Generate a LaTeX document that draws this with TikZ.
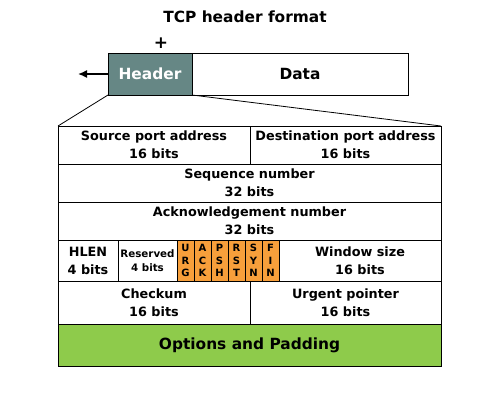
\documentclass[tikz,border=0pt]{standalone}
\usepackage{fontspec}
\setmainfont{DejaVu Sans}
\usetikzlibrary{arrows.meta}
\begin{document}
\begin{tikzpicture}[x=1pt, y=-1pt,
            cell/.style={rectangle, draw=black, line width=0.8pt, fill=white, anchor=north west, inner sep=0pt, outer sep=0pt, align=center, font=\fontsize{12.8}{18}\selectfont\bfseries},
            flag/.style={cell, fill=flagorange, minimum width=17pt, minimum height=41pt, font=\fontsize{10}{12.5}\selectfont\bfseries},
            opts/.style={cell, fill=optgreen, font=\fontsize{15.4}{18}\selectfont\bfseries},
        ]
            \definecolor{flagorange}{HTML}{F79F3B}
            \definecolor{optgreen}{HTML}{8ECB4B}
            \definecolor{hdrgray}{HTML}{668785}
            \useasboundingbox (0,0) rectangle (500,400);
            % title and segment
            \node(title) at (245,17) [font=\fontsize{15.4}{17}\selectfont\bfseries] {TCP header format};
            \node(plus) at (161,43) [font=\fontsize{17}{17}\selectfont\bfseries] {+};
            \node(hdr) at (108,53) [cell, fill=hdrgray, text=white, minimum width=84pt, minimum height=42pt, font=\fontsize{15.4}{17}\selectfont\bfseries] {Header};
            \node(data) at (hdr.north east) [cell, minimum width=216pt, minimum height=42pt, font=\fontsize{15.4}{17}\selectfont\bfseries] {Data};
            \coordinate(arrowend) at (78,74);
            \draw[line width=1.5pt, -{Latex[length=9pt,width=8pt]}] (hdr.west) -- (arrowend);
            % header fields
            \node(src) at (58,126) [cell, minimum width=192pt, minimum height=38pt] {Source port address\\16 bits};
            \node(dst) at (src.north east) [cell, minimum width=191pt, minimum height=38pt] {Destination port address\\16 bits};
            \node(seq) at (src.south west) [cell, minimum width=383pt, minimum height=38pt] {Sequence number\\32 bits};
            \node(ack) at (seq.south west) [cell, minimum width=383pt, minimum height=38pt] {Acknowledgement number\\32 bits};
            \node(hlen) at (ack.south west) [cell, minimum width=60pt, minimum height=41pt] {HLEN\\4 bits};
            \node(resv) at (hlen.north east) [cell, minimum width=59pt, minimum height=41pt, font=\fontsize{10.3}{14}\selectfont\bfseries] {Reserved\\4 bits};
            \node(urg) at (resv.north east) [flag] {U\\R\\G};
            \node(ackf) at (urg.north east) [flag] {A\\C\\K};
            \node(psh) at (ackf.north east) [flag] {P\\S\\H};
            \node(rst) at (psh.north east) [flag] {R\\S\\T};
            \node(syn) at (rst.north east) [flag] {S\\Y\\N};
            \node(fin) at (syn.north east) [flag] {F\\I\\N};
            \node(win) at (fin.north east) [cell, minimum width=162pt, minimum height=41pt] {Window size\\16 bits};
            \node(chk) at (hlen.south west) [cell, minimum width=192pt, minimum height=43pt] {Checkum\\16 bits};
            \node(urp) at (chk.north east) [cell, minimum width=191pt, minimum height=43pt] {Urgent pointer\\16 bits};
            \node(opt) at (chk.south west) [opts, minimum width=383pt, minimum height=42pt] {Options and Padding};
            % zoom lines
            \draw[line width=0.8pt] (hdr.south west) -- (src.north west);
            \draw[line width=0.8pt] (hdr.south east) -- (dst.north east);
        \end{tikzpicture}
\end{document}
